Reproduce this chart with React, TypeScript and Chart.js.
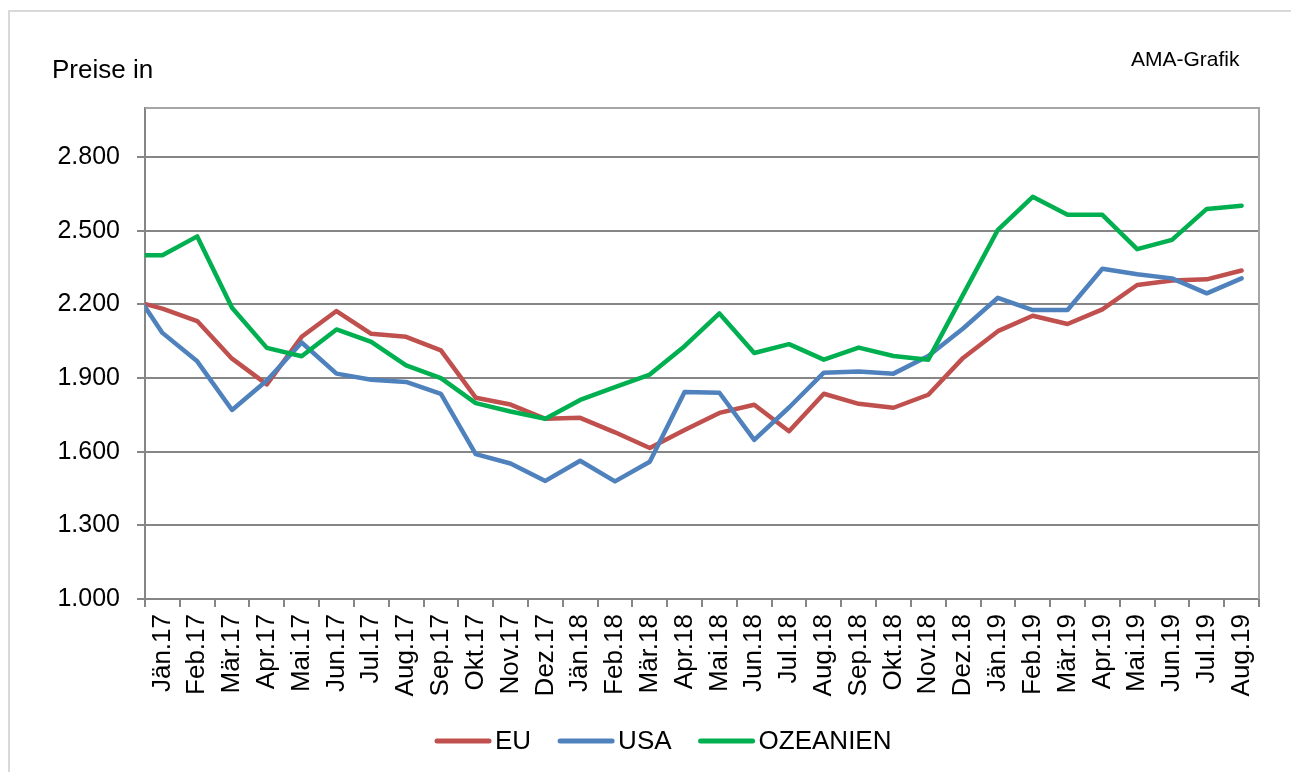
import React, { useEffect, useRef } from 'react';
import { Chart, registerables } from 'chart.js';

Chart.register(...registerables);

const W = 1291;
const H = 772;
const FONT = '"Liberation Sans", Arial, Helvetica, sans-serif';

// 'Dez.16' lies just outside the left edge of the plot (only its segment shows)
const categories = [
  'Dez.16',
  'Jän.17', 'Feb.17', 'Mär.17', 'Apr.17', 'Mai.17', 'Jun.17', 'Jul.17', 'Aug.17',
  'Sep.17', 'Okt.17', 'Nov.17', 'Dez.17',
  'Jän.18', 'Feb.18', 'Mär.18', 'Apr.18', 'Mai.18', 'Jun.18', 'Jul.18', 'Aug.18',
  'Sep.18', 'Okt.18', 'Nov.18', 'Dez.18',
  'Jän.19', 'Feb.19', 'Mär.19', 'Apr.19', 'Mai.19', 'Jun.19', 'Jul.19', 'Aug.19',
];
const firstVisibleCategory = 'Jän.17';

const euValues = [
  2220,
  2183, 2132, 1979, 1874, 2068, 2173, 2080, 2068, 2013, 1820, 1792, 1734,
  1738, 1679, 1615, 1688, 1758, 1791, 1683, 1836, 1795, 1779, 1832, 1982,
  2091, 2154, 2120, 2180, 2279, 2297, 2302, 2338,
];
const usaValues = [
  2296,
  2084, 1968, 1770, 1890, 2045, 1918, 1893, 1884, 1836, 1590, 1552, 1481,
  1563, 1479, 1559, 1843, 1840, 1648, 1780, 1922, 1927, 1918, 1990, 2102,
  2227, 2177, 2177, 2345, 2323, 2306, 2245, 2306,
];
const ozValues = [
  2400,
  2400, 2477, 2186, 2023, 1989, 2098, 2047, 1952, 1900, 1798, 1764, 1734,
  1811, 1863, 1914, 2030, 2163, 2002, 2038, 1975, 2024, 1990, 1975, 2240,
  2504, 2638, 2565, 2565, 2425, 2463, 2589, 2602,
];

const yTickValues = [1000, 1300, 1600, 1900, 2200, 2500, 2800];
const yMin = 1000;
const yMax = 3000;

const seriesNames = ['EU', 'USA', 'OZEANIEN'];
const seriesColors = ['#C0504D', '#4F81BD', '#00B050'];
const seriesValues = [euValues, usaValues, ozValues];

const titleText = 'Preise in';
const sourceText = 'AMA-Grafik';

function fmt(v: number): string {
  return String(Math.round(v)).replace(/\B(?=(\d{3})+(?!\d))/g, '.');
}

const decorPlugin = {
  id: 'decor',
  beforeDatasetsDraw(chart: any) {
    const { ctx, chartArea: a } = chart;
    ctx.save();
    ctx.strokeStyle = '#a6a6a6';
    ctx.lineWidth = 2;
    ctx.beginPath();
    ctx.moveTo(a.left, a.top);
    ctx.lineTo(a.right, a.top);
    ctx.lineTo(a.right, a.bottom);
    ctx.stroke();
    ctx.restore();
  },
  afterDraw(chart: any) {
    const ctx = chart.ctx;
    ctx.save();
    // outer frame
    ctx.strokeStyle = '#d9d9d9';
    ctx.lineWidth = 2;
    ctx.beginPath();
    ctx.moveTo(9, H);
    ctx.lineTo(9, 11);
    ctx.lineTo(W, 11);
    ctx.stroke();

    ctx.fillStyle = '#000';
    ctx.textBaseline = 'alphabetic';
    ctx.textAlign = 'left';
    ctx.font = `26px ${FONT}`;
    ctx.fillText(titleText, 52, 78);
    ctx.font = `21px ${FONT}`;
    ctx.fillText(sourceText, 1131, 66);

    // legend
    ctx.font = `26px ${FONT}`;
    let x = 435;
    const yLine = 741;
    const yText = 749;
    chart.data.datasets.forEach((ds: any) => {
      ctx.strokeStyle = ds.borderColor;
      ctx.lineWidth = 5;
      ctx.lineCap = 'round';
      ctx.beginPath();
      ctx.moveTo(x + 2, yLine);
      ctx.lineTo(x + 54, yLine);
      ctx.stroke();
      x += 60;
      ctx.fillText(ds.label, x, yText);
      x += ctx.measureText(ds.label).width + 27;
    });
    ctx.restore();
  },
};

export default function App() {
  const canvasRef = useRef<HTMLCanvasElement | null>(null);

  useEffect(() => {
    const canvas = canvasRef.current;
    if (!canvas) return;
    Chart.defaults.font.family = FONT;
    const chart = new Chart(canvas, {
      type: 'line',
      data: {
        labels: categories,
        datasets: seriesNames.map((name, i) => ({
          label: name,
          data: seriesValues[i],
          borderColor: seriesColors[i],
          backgroundColor: seriesColors[i],
          borderWidth: 4.5,
          borderJoinStyle: 'round' as const,
          borderCapStyle: 'round' as const,
          pointRadius: 0,
          pointHoverRadius: 0,
          tension: 0,
          fill: false,
          order: seriesNames.length - i,
        })),
      },
      options: {
        responsive: false,
        devicePixelRatio: 1,
        animation: false,
        events: [],
        layout: { padding: { left: 0, right: 32, top: 108, bottom: 63 } },
        plugins: {
          legend: { display: false },
          tooltip: { enabled: false },
          title: { display: false },
        },
        scales: {
          x: {
            type: 'category',
            min: firstVisibleCategory,
            offset: true,
            grid: {
              offset: true,
              drawOnChartArea: false,
              drawTicks: true,
              tickLength: 8,
              color: '#868686',
              lineWidth: 2,
            },
            border: { display: true, color: '#868686', width: 2 },
            ticks: {
              minRotation: 90,
              maxRotation: 90,
              autoSkip: false,
              padding: 7,
              color: '#000',
              font: { size: 26, family: FONT },
            },
            afterFit: (s: any) => {
              s.height = 110;
            },
          },
          y: {
            type: 'linear',
            min: yMin,
            max: yMax,
            afterBuildTicks: (s: any) => {
              s.ticks = yTickValues.map((v) => ({ value: v }));
            },
            grid: {
              color: '#868686',
              lineWidth: 2,
              tickLength: 8,
              drawTicks: true,
            },
            border: { display: true, color: '#868686', width: 2 },
            ticks: {
              padding: 17,
              color: '#000',
              font: { size: 25, family: FONT },
              callback: (v: any) => fmt(Number(v)),
            },
            afterFit: (s: any) => {
              s.width = 145;
            },
          },
        },
      },
      plugins: [decorPlugin],
    });
    return () => chart.destroy();
  }, []);

  return (
    <div style={{ position: 'fixed', left: 0, top: 0, width: W, height: H, background: '#fff' }}>
      <canvas ref={canvasRef} width={W} height={H} style={{ display: 'block', width: W, height: H }} />
    </div>
  );
}
